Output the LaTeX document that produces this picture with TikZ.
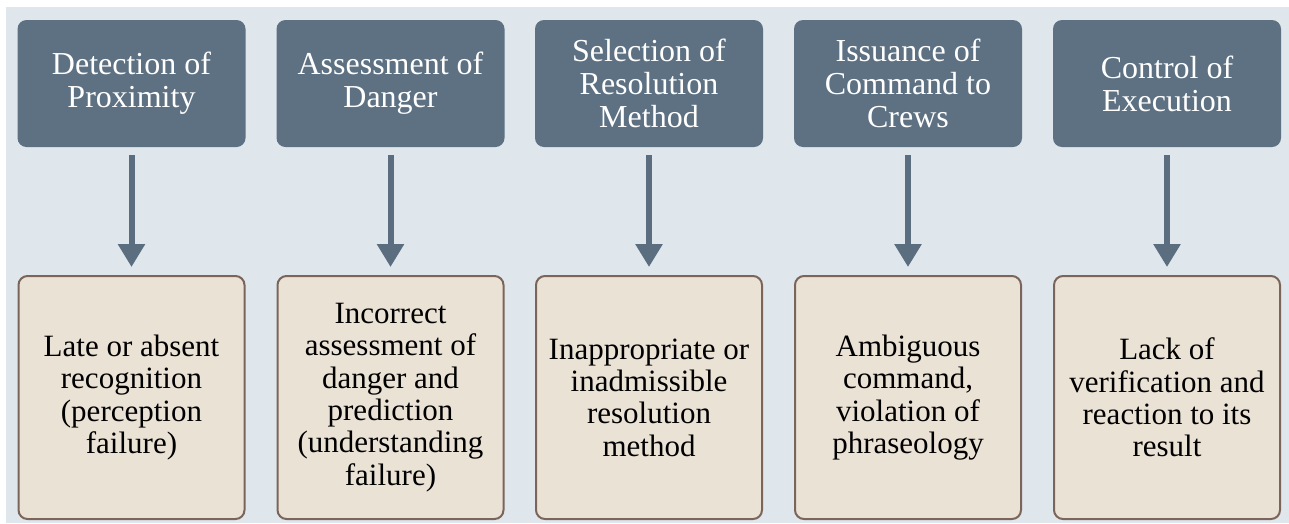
\documentclass[tikz,border=0pt]{standalone}
\usepackage{fontspec}
\setmainfont{LiberationSerif}[Extension=.ttf, UprightFont=*-Regular, BoldFont=*-Bold]
\usepackage{xcolor}
\usepackage{tikz}
\usetikzlibrary{arrows.meta}

\definecolor{slate}{HTML}{5D7183}
\definecolor{slatearrow}{HTML}{5A6E7F}
\definecolor{paper}{HTML}{DFE6EC}
\definecolor{sand}{HTML}{EBE2D6}
\definecolor{umber}{HTML}{7B655B}

\begin{document}
\begin{tikzpicture}[x=1pt, y=-1pt]
\tikzstyle{stage}=[rectangle, rounded corners=9pt, fill=slate, text=white, minimum width=228pt, minimum height=127pt, inner sep=0pt, align=center, font=\fontsize{32}{33}\selectfont]
\tikzstyle{fault}=[rectangle, rounded corners=9pt, draw=umber, line width=2pt, fill=sand, text=black, minimum width=226pt, minimum height=243pt, inner sep=0pt, align=center, font=\fontsize{31}{32.4}\selectfont, execute at begin node={\rule{0pt}{35pt}}]
\tikzstyle{down}=[draw=slatearrow, line width=6pt, -{Triangle[width=26pt, length=23pt]}, shorten <=8pt, shorten >=8pt]

\useasboundingbox (0,0) rectangle (1289,523);
\fill[paper] (6,7) rectangle (1289,523);

\node[stage] (s1) at (131.5,83.5) {Detection of\\Proximity};
\node[stage] (s2) at (390.5,83.5) {Assessment of\\Danger};
\node[stage] (s3) at (649,83.5) {Selection of\\Resolution\\Method};
\node[stage] (s4) at (908,83.5) {Issuance of\\Command to\\Crews};
\node[stage] (s5) at (1167,83.5) {Control of\\Execution};

\node[fault] (f1) at (131.5,397.5) {Late or absent\\recognition\\(perception\\failure)};
\node[fault] (f2) at (390.5,397.5) {Incorrect\\assessment of\\danger and\\prediction\\(understanding\\failure)};
\node[fault] (f3) at (649,397.5) {Inappropriate or\\inadmissible\\resolution\\method};
\node[fault] (f4) at (908,397.5) {Ambiguous\\command,\\violation of\\phraseology};
\node[fault] (f5) at (1167,397.5) {Lack of\\verification and\\reaction to its\\result};

\path
(s1) edge[down] (f1)
(s2) edge[down] (f2)
(s3) edge[down] (f3)
(s4) edge[down] (f4)
(s5) edge[down] (f5);
\end{tikzpicture}
\end{document}
